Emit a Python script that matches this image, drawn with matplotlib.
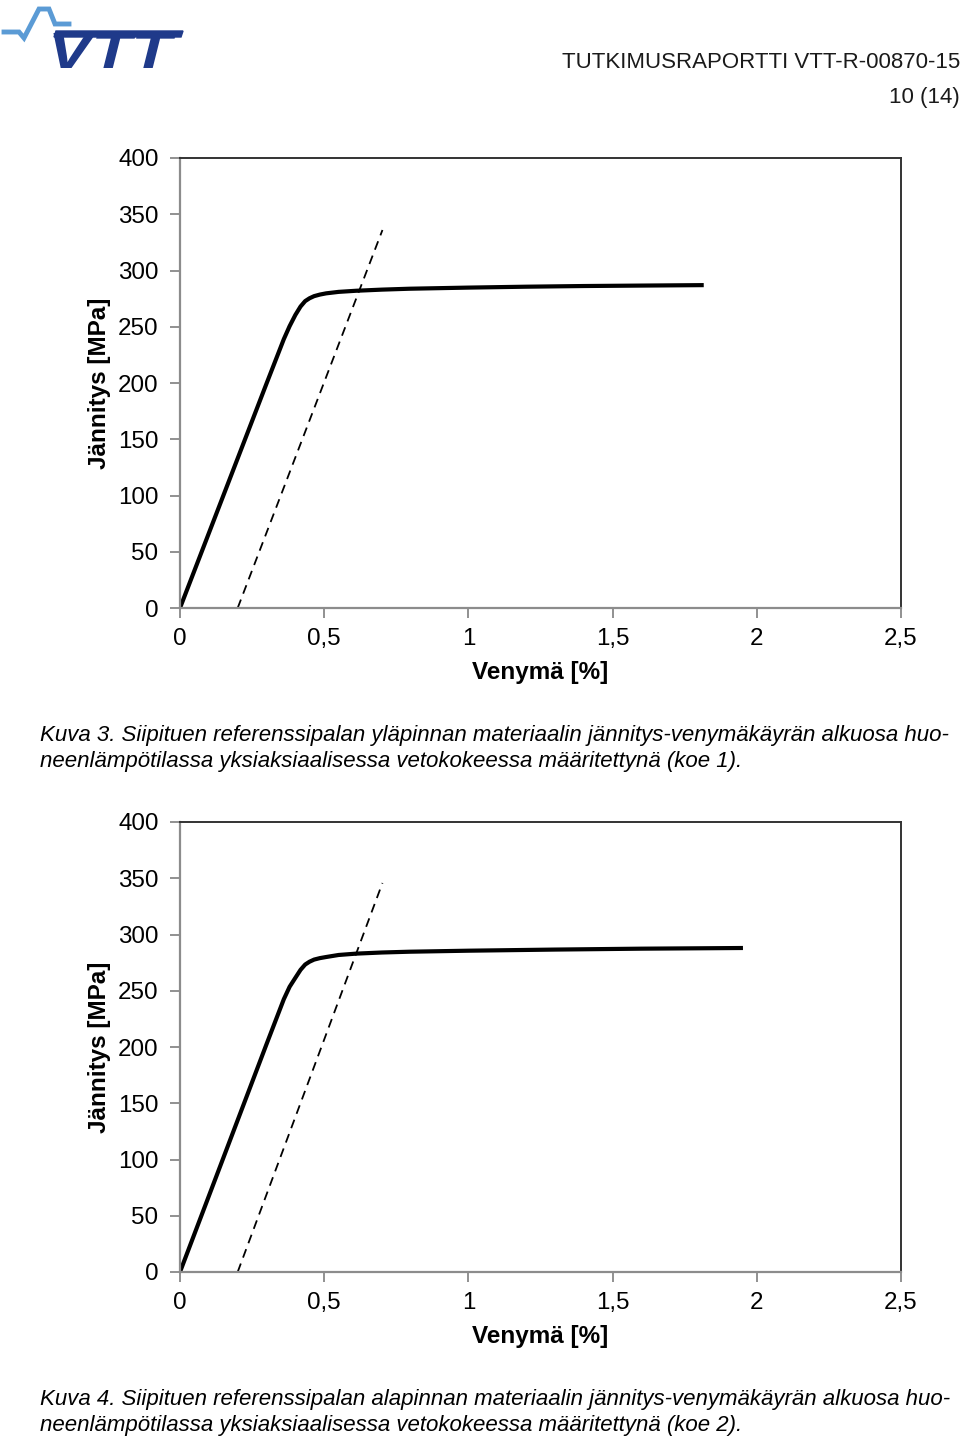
import matplotlib.pyplot as plt
import numpy as np
from matplotlib.textpath import TextPath
from matplotlib.font_manager import FontProperties
from matplotlib.patches import PathPatch, Polygon
from matplotlib.path import Path

plt.rcParams['font.family'] = ['Liberation Sans', 'DejaVu Sans']

# Kuva 3 (koe 1): measured curve and 0.2 % offset line
strain1 = [0.0, 0.1, 0.2, 0.3, 0.36, 0.38, 0.4, 0.418, 0.434, 0.449, 0.465, 0.485, 0.507, 0.55, 0.611,
           0.7, 0.796, 1.0, 1.2, 1.4, 1.6, 1.816]
stress1 = [0.0, 66.5, 133.0, 199.5, 239.0, 250.5, 260.5, 268.0, 272.8, 275.3, 277.2, 278.6, 279.7, 281.0, 282.0,
           283.0, 283.8, 284.8, 285.6, 286.2, 286.6, 287.0]
offset_strain1 = [0.2, 0.702]
offset_stress1 = [0.0, 336.0]

# Kuva 4 (koe 2)
strain2 = [0.0, 0.1, 0.2, 0.3, 0.36, 0.38, 0.4, 0.418, 0.434, 0.449, 0.465, 0.485, 0.507, 0.55, 0.611,
           0.7, 0.796, 1.0, 1.3, 1.6, 1.952]
stress2 = [0.0, 67.5, 135.0, 202.5, 242.5, 253.5, 261.5, 268.6, 273.3, 275.8, 277.7, 279.0, 280.0, 281.8, 283.0,
           284.0, 284.7, 285.6, 286.6, 287.4, 288.0]
offset_strain2 = [0.2, 0.702]
offset_stress2 = [0.0, 345.8]

x_ticks = [0, 0.5, 1, 1.5, 2, 2.5]
x_labels = ['0', '0,5', '1', '1,5', '2', '2,5']
y_ticks = [0, 50, 100, 150, 200, 250, 300, 350, 400]

captions = [
    ["Kuva 3. Siipituen referenssipalan yläpinnan materiaalin jännitys-venymäkäyrän alkuosa huo-",
     "neenlämpötilassa yksiaksiaalisessa vetokokeessa määritettynä (koe 1)."],
    ["Kuva 4. Siipituen referenssipalan alapinnan materiaalin jännitys-venymäkäyrän alkuosa huo-",
     "neenlämpötilassa yksiaksiaalisessa vetokokeessa määritettynä (koe 2)."],
]

W, H = 960, 1440
fig = plt.figure(figsize=(9.6, 14.4), dpi=100)


def px(x, y):
    # pixel position (from top-left) -> figure fraction
    return x / W, 1 - y / H


# header
fig.text(*px(960, 63), 'TUTKIMUSRAPORTTI VTT-R-00870-15', ha='right', va='center',
         fontsize=16.0, color='#1a1a1a')
fig.text(*px(960, 97), '10 (14)', ha='right', va='center', fontsize=16.0, color='#1a1a1a')

# logo: light blue pulse line + stretched dark blue letters
wave = [px(x, y) for x, y in [(4, 32), (19, 32), (24, 38), (39, 9), (49, 9), (55, 24), (69, 24)]]
fig.add_artist(plt.Line2D([p[0] for p in wave], [p[1] for p in wave], color='#5b9bd5', lw=3.5,
                          solid_joinstyle='miter', transform=fig.transFigure))
bar = [px(x, y) for x, y in [(56, 31), (183, 31), (181, 37), (54, 37)]]
fig.add_artist(Polygon(bar, closed=True, color='#1f3a8a', transform=fig.transFigure))
tp = TextPath((0, 0), 'VTT', size=1, prop=FontProperties(family='Liberation Sans', weight='bold', style='italic'))
v = tp.vertices
x0, x1, y0, y1 = v[:, 0].min(), v[:, 0].max(), v[:, 1].min(), v[:, 1].max()
nx = (48 + (v[:, 0] - x0) / (x1 - x0) * (176 - 48)) / W
ny = 1 - (68 - (v[:, 1] - y0) / (y1 - y0) * (68 - 33)) / H
fig.add_artist(PathPatch(Path(np.column_stack([nx, ny]), tp.codes), color='#1f3a8a', lw=0,
                         transform=fig.transFigure))

datasets = [
    (strain1, stress1, offset_strain1, offset_stress1, 158, 608, 736),
    (strain2, stress2, offset_strain2, offset_stress2, 822, 1272, 1400),
]

for i, (sx, sy, ox, oy, top, bottom, cap_y) in enumerate(datasets):
    ax = fig.add_axes([180 / W, 1 - bottom / H, 721 / W, (bottom - top) / H])
    ax.plot(sx, sy, color='black', lw=3.0, solid_capstyle='butt', solid_joinstyle='round')
    ax.plot(ox, oy, color='black', lw=1.3, linestyle=(0, (5, 3.5)))
    ax.set_xlim(0, 2.5)
    ax.set_ylim(0, 400)
    ax.set_xticks(x_ticks)
    ax.set_xticklabels(x_labels)
    ax.set_yticks(y_ticks)
    ax.tick_params(axis='both', labelsize=17.4, colors='#888888', labelcolor='black',
                   length=7, width=1.3, direction='out')
    ax.tick_params(axis='y', pad=8.5)
    ax.tick_params(axis='x', pad=7.5)
    for s in ['left', 'bottom']:
        ax.spines[s].set_color('#8c8c8c')
        ax.spines[s].set_linewidth(1.6)
    for s in ['top', 'right']:
        ax.spines[s].set_color('#333333')
        ax.spines[s].set_linewidth(1.4)
    ax.set_xlabel('Venymä [%]', fontsize=17.5, fontweight='bold', labelpad=8)
    ax.set_ylabel('Jännitys [MPa]', fontsize=17.5, fontweight='bold')
    ax.yaxis.set_label_coords(-69 / 721, 0.5)
    for j, line in enumerate(captions[i]):
        fig.text(*px(40, cap_y + 26 * j), line, ha='left', va='center', fontsize=16.0, style='italic')

fig.savefig('out.png', dpi=100)
